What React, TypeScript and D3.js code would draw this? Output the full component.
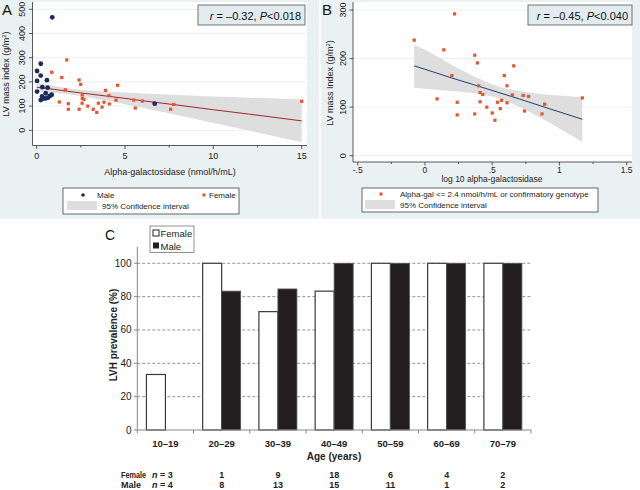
import * as d3 from "d3";

// ---- Panel A data: LV mass index vs alpha-galactosidase ----
const maleA: [number, number][] = [
  [0.88, 467], [0.02, 245], [0.23, 275], [0.02, 204], [0.23, 226], [0.02, 160],
  [0.32, 178], [0.58, 207], [0.62, 176], [0.51, 153], [0.23, 125], [0.34, 135],
  [0.41, 131], [0.53, 132], [0.64, 135], [0.75, 142], [0.85, 147], [0.3, 140],
  [6.68, 110],
];
const femaleA: [number, number][] = [
  [0.85, 240], [1.7, 291], [1.42, 218], [1.62, 167], [1.28, 117], [1.79, 110],
  [1.79, 87], [2.4, 208], [2.49, 190], [2.58, 146], [2.58, 132], [2.68, 128],
  [2.57, 112], [2.4, 87], [2.89, 100], [3.2, 87], [3.4, 74], [3.49, 112],
  [3.7, 96], [3.81, 116], [3.89, 165], [4.09, 143], [4.11, 109], [4.49, 125],
  [4.58, 186], [5.49, 125], [5.58, 92], [5.98, 121], [7.58, 87], [7.75, 107],
  [15, 120],
];
// fitted line and 95% CI: [x, fit, lower, upper]
const ciA: [number, number, number, number][] = [
  [0, 178, 160, 197], [1, 169, 154, 183], [2, 159, 147, 172], [3, 150, 136, 164],
  [4, 141, 122, 159], [5, 132, 108, 156], [6, 122, 93, 152], [8, 104, 62, 146],
  [10, 85, 30, 140], [12, 67, -1, 135], [15, 39, -49, 127],
];
const xTicksA = [0, 5, 10, 15];
const xMinorA = [2.5, 7.5, 12.5];
const yTicksA = [0, 100, 200, 300, 400, 500];

// ---- Panel B data: LV mass index vs log10 alpha-gal ----
const pointsB: [number, number][] = [
  [-0.08, 238], [0.22, 292], [0.14, 218], [0.2, 165], [0.09, 117], [0.24, 110],
  [0.24, 84], [0.37, 207], [0.39, 191], [0.4, 144], [0.41, 130], [0.43, 126],
  [0.41, 111], [0.37, 86], [0.46, 100], [0.5, 88], [0.52, 73], [0.54, 110],
  [0.57, 114], [0.56, 97], [0.59, 165], [0.61, 144], [0.61, 109], [0.65, 125],
  [0.66, 185], [0.73, 124], [0.77, 122], [0.74, 92], [0.89, 106], [0.87, 86],
  [1.17, 119],
];
const ciB: [number, number, number, number][] = [
  [-0.08, 185, 140, 228], [0, 178, 138, 218], [0.2, 160, 133, 187],
  [0.4, 143, 127, 159], [0.55, 130, 118, 142], [0.7, 117, 101, 133],
  [0.9, 99, 72, 126], [1.17, 75, 28, 121],
];
const xTicksB = [-0.5, 0, 0.5, 1, 1.5];
const xTickLabelsB = ["-.5", "0", ".5", "1", "1.5"];
const xMinorB = [-0.25, 0.25, 0.75, 1.25];
const yTicksB = [0, 100, 200, 300];

// ---- Panel C data: LVH prevalence by age ----
const ages = ["10–19", "20–29", "30–39", "40–49", "50–59", "60–69", "70–79"];
const femalePct = [33.3, 100, 71, 83.3, 100, 100, 100];
const malePct = [0, 83.3, 84.6, 100, 100, 100, 100];
const femaleN = [3, 1, 9, 18, 6, 4, 2];
const maleN = [4, 8, 13, 15, 11, 1, 2];
const yTicksC = [0, 20, 40, 60, 80, 100];

const BG = "#eaf1f3";
const NAVY = "#1b2a5c";
const ORANGE = "#e8532e";
const CI_FILL = "#dedede";
const FONT = "'Liberation Sans', Arial, sans-serif";

function App() {
  // panel A scales
  const xA = d3.scaleLinear().domain([0, 15]).range([36.7, 301.7]);
  const yA = d3.scaleLinear().domain([0, 500]).range([130.3, 9.3]);
  const areaA = d3
    .area<[number, number, number, number]>()
    .x((d) => xA(d[0]))
    .y0((d) => yA(d[2]))
    .y1((d) => yA(d[3]))
    .curve(d3.curveMonotoneX);
  const lineA = d3
    .line<[number, number, number, number]>()
    .x((d) => xA(d[0]))
    .y((d) => yA(d[1]));

  // panel B scales
  const xB = d3.scaleLinear().domain([-0.5, 1.5]).range([357.7, 626.7]);
  const yB = d3.scaleLinear().domain([0, 300]).range([155.7, 10]);
  const areaB = d3
    .area<[number, number, number, number]>()
    .x((d) => xB(d[0]))
    .y0((d) => yB(d[2]))
    .y1((d) => yB(d[3]))
    .curve(d3.curveMonotoneX);
  const lineB = d3
    .line<[number, number, number, number]>()
    .x((d) => xB(d[0]))
    .y((d) => yB(d[1]));

  // panel C scales
  const x0 = d3.scaleBand<string>().domain(ages).range([137.3, 531]).padding(0);
  const x1 = d3
    .scaleBand<string>()
    .domain(["Female", "Male"])
    .range([0, x0.bandwidth()])
    .paddingInner(0)
    .paddingOuter(0.48);
  const yC = d3.scaleLinear().domain([0, 100]).range([430, 263.3]);
  const mid = (a: string) => (x0(a) || 0) + x0.bandwidth() / 2;

  return (
    <svg
      width={640}
      height={490}
      style={{ position: "absolute", left: 0, top: 0, background: "#fff" }}
      fontFamily={FONT}
    >
      {/* ================= Panel A ================= */}
      <rect x={0} y={0} width={319} height={219} fill={BG} />
      <rect x={33} y={2} width={274} height={143} fill="#fff" />
      {yTicksA.map((t) => (
        <line key={t} x1={33} x2={307} y1={yA(t)} y2={yA(t)} stroke={BG} strokeWidth={1} />
      ))}
      <path d={areaA(ciA) || ""} fill={CI_FILL} />
      <path d={lineA(ciA) || ""} fill="none" stroke="#a3262a" strokeWidth={1} />
      {maleA.map((d, i) => (
        <circle key={i} cx={xA(d[0])} cy={yA(d[1])} r={2.4} fill={NAVY} />
      ))}
      {femaleA.map((d, i) => (
        <rect key={i} x={xA(d[0]) - 1.6} y={yA(d[1]) - 1.6} width={3.2} height={3.2} fill={ORANGE} />
      ))}
      {/* axes */}
      <line x1={32.5} x2={32.5} y1={2} y2={145.5} stroke="#333" strokeWidth={0.8} />
      <line x1={32.5} x2={307} y1={145.5} y2={145.5} stroke="#333" strokeWidth={0.8} />
      {yTicksA.map((t) => (
        <g key={t}>
          <line x1={29} x2={32.5} y1={yA(t)} y2={yA(t)} stroke="#333" strokeWidth={0.8} />
          <text
            transform={`translate(25,${yA(t)}) rotate(-90)`}
            textAnchor="middle"
            fontSize={9}
            fill="#222"
          >
            {t}
          </text>
        </g>
      ))}
      {xTicksA.map((t) => (
        <g key={t}>
          <line x1={xA(t)} x2={xA(t)} y1={145.5} y2={149} stroke="#333" strokeWidth={0.8} />
          <text x={xA(t)} y={159} textAnchor="middle" fontSize={9} fill="#222">
            {t}
          </text>
        </g>
      ))}
      {xMinorA.map((t) => (
        <line key={t} x1={xA(t)} x2={xA(t)} y1={145.5} y2={147.5} stroke="#333" strokeWidth={0.8} />
      ))}
      <text x={170} y={175} textAnchor="middle" fontSize={9} fill="#222">
        Alpha-galactosidase (nmol/h/mL)
      </text>
      <text transform="translate(9,74) rotate(-90)" textAnchor="middle" fontSize={9} fill="#222">
        LV mass index (g/m<tspan baselineShift="super" fontSize={6}>2</tspan>)
      </text>
      <text x={2} y={15} fontSize={15} fill="#111">A</text>
      <rect x={198} y={5} width={107} height={20} fill="#e2ecef" stroke="#555" strokeWidth={0.8} />
      <text x={301} y={19.5} textAnchor="end" fontSize={11} fill="#111">
        <tspan fontStyle="italic">r</tspan> = –0.32, <tspan fontStyle="italic">P</tspan>{"<"}0.018
      </text>
      {/* legend A */}
      <rect x={63} y={188} width={176} height={26} fill="#fff" stroke="#444" strokeWidth={0.8} />
      <circle cx={83} cy={195} r={1.8} fill={NAVY} />
      <text x={97} y={198} fontSize={8} fill="#222">Male</text>
      <rect x={202.5} y={193.5} width={3} height={3} fill={ORANGE} />
      <text x={209} y={198} fontSize={8} fill="#222">Female</text>
      <rect x={67} y={201} width={30} height={9} fill={CI_FILL} />
      <text x={102} y={209} fontSize={8} fill="#222">95% Confidence interval</text>

      {/* ================= Panel B ================= */}
      <rect x={321} y={0} width={319} height={219} fill={BG} />
      <rect x={353} y={2} width={279} height={160} fill="#fff" />
      {yTicksB.map((t) => (
        <line key={t} x1={353} x2={632} y1={yB(t)} y2={yB(t)} stroke={BG} strokeWidth={1} />
      ))}
      <path d={areaB(ciB) || ""} fill={CI_FILL} />
      <path d={lineB(ciB) || ""} fill="none" stroke="#233f73" strokeWidth={1} />
      {pointsB.map((d, i) => (
        <rect key={i} x={xB(d[0]) - 1.6} y={yB(d[1]) - 1.6} width={3.2} height={3.2} fill={ORANGE} />
      ))}
      <line x1={353} x2={353} y1={2} y2={162} stroke="#333" strokeWidth={0.8} />
      <line x1={353} x2={632} y1={162} y2={162} stroke="#333" strokeWidth={0.8} />
      {yTicksB.map((t) => (
        <g key={t}>
          <line x1={349.5} x2={353} y1={yB(t)} y2={yB(t)} stroke="#333" strokeWidth={0.8} />
          <text
            transform={`translate(346,${yB(t)}) rotate(-90)`}
            textAnchor="middle"
            fontSize={9}
            fill="#222"
          >
            {t}
          </text>
        </g>
      ))}
      {xTicksB.map((t, i) => (
        <g key={t}>
          <line x1={xB(t)} x2={xB(t)} y1={162} y2={165.5} stroke="#333" strokeWidth={0.8} />
          <text x={xB(t)} y={172.5} textAnchor="middle" fontSize={8.5} fill="#222">
            {xTickLabelsB[i]}
          </text>
        </g>
      ))}
      {xMinorB.map((t) => (
        <line key={t} x1={xB(t)} x2={xB(t)} y1={162} y2={164} stroke="#333" strokeWidth={0.8} />
      ))}
      <text x={492} y={182} textAnchor="middle" fontSize={8.5} fill="#222">
        log 10 alpha-galactosidase
      </text>
      <text transform="translate(333,83) rotate(-90)" textAnchor="middle" fontSize={9} fill="#222">
        LV mass Index (g/m<tspan baselineShift="super" fontSize={6}>2</tspan>)
      </text>
      <text x={322} y={15} fontSize={15} fill="#111">B</text>
      <rect x={528} y={5} width={104} height={20} fill="#e2ecef" stroke="#555" strokeWidth={0.8} />
      <text x={628} y={19.5} textAnchor="end" fontSize={11} fill="#111">
        <tspan fontStyle="italic">r</tspan> = –0.45, <tspan fontStyle="italic">P</tspan>{"<"}0.040
      </text>
      <rect x={362} y={188} width={236} height={24} fill="#fff" stroke="#444" strokeWidth={0.8} />
      <rect x={379.5} y={192.5} width={3} height={3} fill={ORANGE} />
      <text x={400} y={197} fontSize={8} fill="#222">
        {"Alpha-gal <= 2.4 nmol/h/mL or confirmatory genotype"}
      </text>
      <rect x={365} y={200} width={30} height={9} fill={CI_FILL} />
      <text x={400} y={208} fontSize={8} fill="#222">95% Confidence interval</text>

      {/* ================= Panel C ================= */}
      <text x={105} y={240} fontSize={14} fill="#111">C</text>
      {yTicksC.filter((t) => t > 0).map((t) => (
        <line
          key={t}
          x1={137.3}
          x2={531}
          y1={yC(t)}
          y2={yC(t)}
          stroke="#777"
          strokeWidth={0.8}
          strokeDasharray="3,2"
        />
      ))}
      {ages.map((a, i) => (
        <g key={a} transform={`translate(${x0(a)},0)`}>
          <rect
            x={x1("Female")}
            y={yC(femalePct[i])}
            width={x1.bandwidth()}
            height={yC(0) - yC(femalePct[i])}
            fill="#fff"
            stroke="#3a3a3a"
            strokeWidth={1.2}
          />
          {malePct[i] > 0 && (
            <rect
              x={x1("Male")}
              y={yC(malePct[i])}
              width={x1.bandwidth()}
              height={yC(0) - yC(malePct[i])}
              fill="#231f20"
              stroke="#555"
              strokeWidth={0.8}
            />
          )}
        </g>
      ))}
      <line x1={137.3} x2={137.3} y1={247} y2={430} stroke="#888" strokeWidth={1} />
      <line x1={137.3} x2={531} y1={430} y2={430} stroke="#888" strokeWidth={1} />
      {yTicksC.map((t) => (
        <g key={t}>
          <line x1={134} x2={137.3} y1={yC(t)} y2={yC(t)} stroke="#888" strokeWidth={1} />
          <text x={131.5} y={yC(t) + 3.5} textAnchor="end" fontSize={10} fill="#222">
            {t}
          </text>
        </g>
      ))}
      {[...ages, ""].map((a, i) => {
        const xt = 137.3 + i * x0.step();
        return <line key={i} x1={xt} x2={xt} y1={430} y2={433.5} stroke="#888" strokeWidth={1} />;
      })}
      {ages.map((a) => (
        <text
          key={a}
          x={mid(a)}
          y={447}
          textAnchor="middle"
          fontSize={9.5}
          fontWeight="bold"
          fill="#222"
        >
          {a}
        </text>
      ))}
      <text x={334} y={460} textAnchor="middle" fontSize={10} fontWeight="bold" fill="#222">
        Age (years)
      </text>
      <text
        transform="translate(117,335) rotate(-90)"
        textAnchor="middle"
        fontSize={10}
        fontWeight="bold"
        fill="#222"
      >
        LVH prevalence (%)
      </text>
      {/* sample-size table */}
      <g fontSize={9} fontWeight="bold" fill="#222">
        <text x={121} y={478} textLength={25} lengthAdjust="spacingAndGlyphs">Female</text>
        <text x={121} y={488} textLength={20} lengthAdjust="spacingAndGlyphs">Male</text>
        <text x={152} y={478}>
          <tspan fontStyle="italic">n</tspan> = {femaleN[0]}
        </text>
        <text x={152} y={488}>
          <tspan fontStyle="italic">n</tspan> = {maleN[0]}
        </text>
        {ages.slice(1).map((a, j) => (
          <g key={a}>
            <text x={mid(a)} y={478} textAnchor="middle">
              {femaleN[j + 1]}
            </text>
            <text x={mid(a)} y={488} textAnchor="middle">
              {maleN[j + 1]}
            </text>
          </g>
        ))}
      </g>
      {/* legend C */}
      <rect x={150} y={226} width={44} height={26.5} fill="#fff" stroke="#777" strokeWidth={0.8} />
      <rect x={153} y={230} width={6} height={6} fill="#fff" stroke="#222" strokeWidth={1} />
      <text x={160.5} y={237} fontSize={9.5} fill="#222">Female</text>
      <rect x={153} y={242.5} width={6} height={6} fill="#231f20" />
      <text x={160.5} y={249.5} fontSize={9.5} fill="#222">Male</text>
    </svg>
  );
}

export default App;
